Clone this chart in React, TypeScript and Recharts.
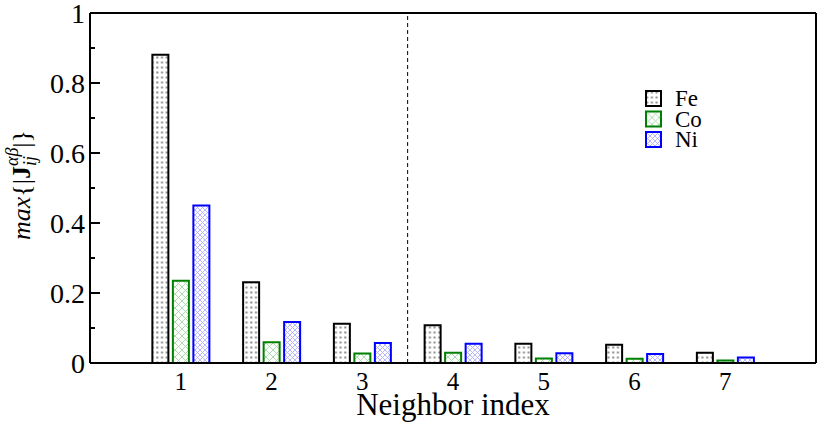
import React from 'react';
import { BarChart, Bar, XAxis, YAxis, ReferenceLine } from 'recharts';

const neighbors = [1, 2, 3, 4, 5, 6, 7];
const feValues = [0.881, 0.231, 0.112, 0.108, 0.055, 0.052, 0.029];
const coValues = [0.235, 0.059, 0.027, 0.029, 0.013, 0.012, 0.007];
const niValues = [0.45, 0.117, 0.057, 0.055, 0.028, 0.026, 0.016];
const xTicks = [1, 2, 3, 4, 5, 6, 7];
const yMajorTicks = [0, 0.2, 0.4, 0.6, 0.8, 1];
const yMinorTicks = [0.1, 0.3, 0.5, 0.7, 0.9];
const separatorAt = 3.5;
const seriesNames = ['Fe', 'Co', 'Ni'];

const data = neighbors.map((n, i) => ({ n, fe: feValues[i], co: coValues[i], ni: niValues[i] }));
const yTicks = [...yMajorTicks, ...yMinorTicks].sort((a, b) => a - b);

const FONT = '"Liberation Serif", "DejaVu Serif", serif';

const Patterns = ({ s }: { s: string }) => (
  <defs>
    <pattern id={`fe${s}`} width="4.7" height="5" patternUnits="userSpaceOnUse">
      <rect width="4.7" height="5" fill="#fff" />
      <rect x="1.2" y="1.5" width="2" height="2" fill="#8a8a8a" />
    </pattern>
    <pattern id={`co${s}`} width="7" height="7" patternUnits="userSpaceOnUse">
      <rect width="7" height="7" fill="#fff" />
      <path d="M0,0 L7,7 M7,0 L0,7" stroke="#a6d8a6" strokeWidth="0.9" />
      <rect x="3" y="3" width="1" height="1" fill="#a6d8a6" />
    </pattern>
    <pattern id={`ni${s}`} width="5" height="5" patternUnits="userSpaceOnUse">
      <rect width="5" height="5" fill="#fff" />
      <path d="M0,0 L5,5 M5,0 L0,5" stroke="#b0b0ff" strokeWidth="0.9" />
    </pattern>
  </defs>
);

const fmt = (v: number) => (Math.abs(v - Math.round(v)) < 1e-9 ? String(Math.round(v)) : v.toFixed(1));
const isMajor = (v: number) => yMajorTicks.some((m) => Math.abs(m - v) < 1e-9);

const LeftTick = (props: any) => {
  const { x, y, payload } = props;
  const ax = x + 5;
  const major = isMajor(payload.value);
  return (
    <g>
      <line x1={ax} x2={ax + (major ? 10 : 5)} y1={y} y2={y} stroke="#000" strokeWidth={2} />
      {major && (
        <text x={x} y={y} dy="0.35em" textAnchor="end" fontFamily={FONT} fontSize={28} fill="#000">
          {fmt(payload.value)}
        </text>
      )}
    </g>
  );
};

const RightTick = (props: any) => {
  const { x, y, payload } = props;
  const major = isMajor(payload.value);
  return <line x1={x} x2={x - (major ? 10 : 5)} y1={y} y2={y} stroke="#000" strokeWidth={2} />;
};

const XTick = (props: any) => {
  const { x, y, payload } = props;
  return (
    <text x={x} y={y} dy="0.71em" textAnchor="middle" fontFamily={FONT} fontSize={25} fill="#000">
      {payload.value}
    </text>
  );
};

const YLabel = (props: any) => {
  const vb = props.viewBox;
  const cx = vb.x + 30;
  const cy = vb.y + vb.height / 2 - 3;
  return (
    <text
      x={cx}
      y={cy}
      transform={`rotate(-90, ${cx}, ${cy})`}
      textAnchor="middle"
      fontFamily={FONT}
      fontSize={26}
      fill="#000"
    >
      <tspan fontStyle="italic">max</tspan>
      <tspan>{'{|'}</tspan>
      <tspan fontWeight="bold">J</tspan>
      <tspan fontStyle="italic" fontSize={18} dy={6}>ij</tspan>
      <tspan fontStyle="italic" fontSize={18} dx={-10} dy={-18}>αβ</tspan>
      <tspan dy={12}>{'|}'}</tspan>
    </text>
  );
};

const XLabel = (props: any) => {
  const vb = props.viewBox;
  return (
    <text x={vb.x + vb.width / 2} y={vb.y + 52} textAnchor="middle" fontFamily={FONT} fontSize={31} fill="#000">
      Neighbor index
    </text>
  );
};

const swatch = [
  { id: 'fe', stroke: '#000' },
  { id: 'co', stroke: '#008000' },
  { id: 'ni', stroke: '#0000ff' },
];

const LegendBox = () => (
  <svg width={80} height={66} style={{ position: 'absolute', left: 645, top: 90 }}>
    <Patterns s="L" />
    {seriesNames.map((name, i) => (
      <g key={name} transform={`translate(0, ${i * 20.5})`}>
        <rect x={1} y={1} width={15} height={15} fill={`url(#${swatch[i].id}L)`} stroke={swatch[i].stroke} strokeWidth={2} />
        <text x={30} y={16} fontFamily={FONT} fontSize={23} fill="#000">
          {name}
        </text>
      </g>
    ))}
  </svg>
);

export default function App() {
  return (
    <div style={{ position: 'absolute', left: 0, top: 0, width: 830, height: 427, background: '#fff' }}>
      <BarChart
        width={830}
        height={427}
        data={data}
        margin={{ top: 13, right: 0, bottom: 0, left: 0 }}
        barGap={4.5}
        barSize={16}
      >
        <Patterns s="B" />
        <XAxis
          dataKey="n"
          type="number"
          domain={[0, 8]}
          ticks={xTicks}
          allowDecimals={false}
          height={64}
          tickLine={false}
          tickSize={0}
          tickMargin={9}
          tick={<XTick />}
          axisLine={{ stroke: '#000', strokeWidth: 2 }}
          label={<XLabel />}
        />
        <YAxis
          yAxisId="l"
          domain={[0, 1]}
          ticks={yTicks}
          width={90}
          tickLine={false}
          tickSize={0}
          tickMargin={5}
          tick={<LeftTick />}
          interval={0}
          axisLine={{ stroke: '#000', strokeWidth: 2 }}
          label={<YLabel />}
        />
        <YAxis
          yAxisId="r"
          orientation="right"
          domain={[0, 1]}
          ticks={yTicks}
          width={14}
          tickLine={false}
          tickSize={0}
          tickMargin={0}
          tick={<RightTick />}
          interval={0}
          axisLine={{ stroke: '#000', strokeWidth: 2 }}
        />
        <ReferenceLine yAxisId="l" y={1} stroke="#000" strokeWidth={2} />
        <ReferenceLine yAxisId="l" x={separatorAt} stroke="#000" strokeWidth={1} strokeDasharray="4 3" />
        <Bar yAxisId="l" dataKey="fe" name={seriesNames[0]} fill="url(#feB)" stroke="#000" strokeWidth={2} isAnimationActive={false} />
        <Bar yAxisId="l" dataKey="co" name={seriesNames[1]} fill="url(#coB)" stroke="#008000" strokeWidth={2} isAnimationActive={false} />
        <Bar yAxisId="l" dataKey="ni" name={seriesNames[2]} fill="url(#niB)" stroke="#0000ff" strokeWidth={2} isAnimationActive={false} />
      </BarChart>
      <LegendBox />
    </div>
  );
}
